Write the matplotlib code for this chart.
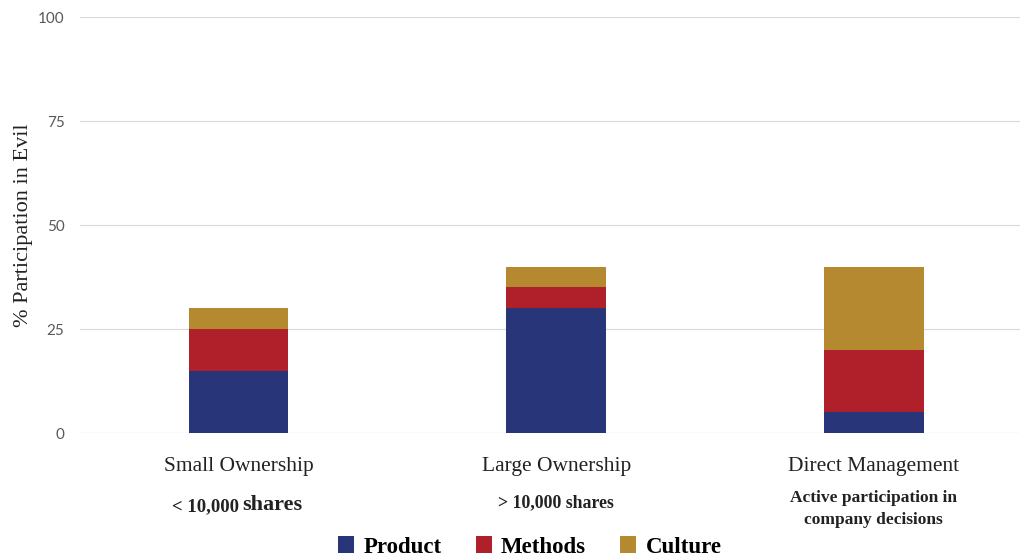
import numpy as np
import matplotlib
matplotlib.use("Agg")
import matplotlib.pyplot as plt
from matplotlib.transforms import blended_transform_factory

categories = ["Small Ownership", "Large Ownership", "Direct Management"]
product = [15, 30, 5]
methods = [10, 5, 15]
culture = [5, 5, 20]
series_names = ["Product", "Methods", "Culture"]
yticks = [0, 25, 50, 75, 100]

colors = ["#283579", "#B0202A", "#B5892F"]
serif = "Liberation Serif"

fig = plt.figure(figsize=(10.23, 5.58), dpi=100)
ax = fig.add_axes([0.078, 0.224, 0.919, 0.7455])

x = np.arange(len(categories))
w = 0.314
bottom = np.zeros(len(categories))
bars = []
for vals, c, name in zip([product, methods, culture], colors, series_names):
    b = ax.bar(x, vals, w, bottom=bottom, color=c, label=name, zorder=3)
    bars.append(b)
    bottom += np.array(vals)

ax.set_ylim(0, 100)
ax.set_xlim(-0.5, 2.46)
ax.set_yticks(yticks)
ax.set_yticklabels([str(t) for t in yticks], fontfamily="Lato", fontsize=11, color="#595959")
ax.yaxis.grid(True, color="#d9d9d9", linewidth=0.8, zorder=0)
ax.tick_params(axis="y", length=0, pad=11)
ax.set_xticks([])
for s in ax.spines.values():
    s.set_visible(False)
ax.axhline(0, color="#d9d9d9", linewidth=0.8, zorder=1)

ax.set_ylabel("% Participation in Evil", fontfamily=serif, fontsize=16, color="#222222")
ax.yaxis.set_label_coords(-0.05, 0.5)

tr = blended_transform_factory(ax.transData, fig.transFigure)
for xi, cat in zip(x, categories):
    ax.text(xi, 1 - 467 / 558, cat, transform=tr, ha="center", va="center",
            fontfamily=serif, fontsize=15.5, color="#222222")

# subtitles
ax.text(x[0] + 0.0, 1 - 507 / 558, "< 10,000", transform=tr, ha="right", va="center",
        fontfamily=serif, fontsize=13.5, fontweight="bold", color="#222222")
ax.text(x[0] + 0.01, 1 - 505 / 558, "shares", transform=tr, ha="left", va="center",
        fontfamily=serif, fontsize=16, fontweight="bold", color="#222222")
ax.text(x[1], 1 - 503 / 558, "> 10,000 shares", transform=tr, ha="center", va="center",
        fontfamily=serif, fontsize=12.8, fontweight="bold", color="#222222")
ax.text(x[2], 1 - 509 / 558, "Active participation in\ncompany decisions", transform=tr,
        ha="center", va="center", fontfamily=serif, fontsize=12.5, fontweight="bold",
        color="#222222", linespacing=1.45)

fig.legend(handles=bars, labels=series_names, loc="center", bbox_to_anchor=(0.518, 1 - 547 / 558),
           ncol=3, frameon=False, prop={"family": serif, "size": 16.5, "weight": "bold"},
           handlelength=0.7, handleheight=0.7, handletextpad=0.4, columnspacing=1.5)

fig.savefig("out.png", dpi=100)
